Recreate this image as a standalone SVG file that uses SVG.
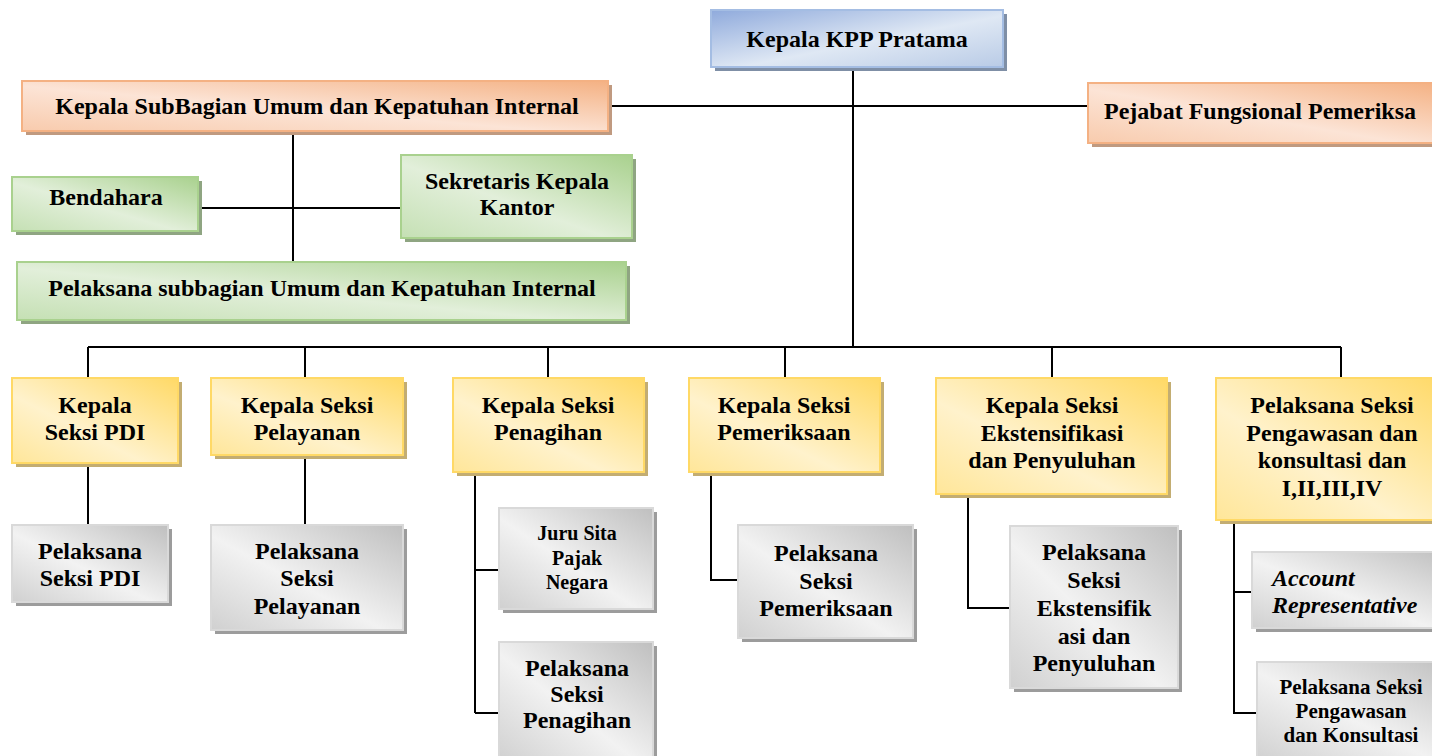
<svg xmlns="http://www.w3.org/2000/svg" width="1432" height="756" viewBox="0 0 1432 756">
<defs>
<linearGradient id="gBlue" x1="0" y1="0" x2="1" y2="1"><stop offset="0" stop-color="#8faadc"/><stop offset="0.55" stop-color="#dfe8f4"/><stop offset="1" stop-color="#b9cbe6"/></linearGradient>
<linearGradient id="gOrange" x1="1" y1="0" x2="0" y2="1"><stop offset="0" stop-color="#f4b183"/><stop offset="0.55" stop-color="#fce4d6"/><stop offset="1" stop-color="#f8cbad"/></linearGradient>
<linearGradient id="gGreen" x1="1" y1="0" x2="0" y2="1"><stop offset="0" stop-color="#a9d18e"/><stop offset="0.55" stop-color="#e2efda"/><stop offset="1" stop-color="#c5e0b4"/></linearGradient>
<linearGradient id="gYellow" x1="1" y1="0" x2="0" y2="1"><stop offset="0" stop-color="#ffd966"/><stop offset="0.6" stop-color="#fff2cc"/><stop offset="1" stop-color="#ffe699"/></linearGradient>
<linearGradient id="gGray" x1="1" y1="0" x2="0" y2="1"><stop offset="0" stop-color="#bfbfbf"/><stop offset="0.55" stop-color="#f2f2f2"/><stop offset="1" stop-color="#d0d0d0"/></linearGradient>
</defs>
<style>
text{font-family:"Liberation Serif","Times New Roman",serif;font-weight:bold;fill:#000;text-anchor:middle;font-size:24px}
.sm{font-size:20px}
.sm2{font-size:21px}
.it{font-style:italic;text-anchor:start}
.blue{fill:url(#gBlue);stroke:#a4bde3;stroke-width:2}
.orange{fill:url(#gOrange);stroke:#f4b183;stroke-width:2}
.green{fill:url(#gGreen);stroke:#a9d18e;stroke-width:2}
.yellow{fill:url(#gYellow);stroke:#ffd966;stroke-width:2}
.gray{fill:url(#gGray);stroke:#d9d9d9;stroke-width:2}
.shB{fill:#7f8fa6}.shO{fill:#c09a80}.shG{fill:#8fa582}.shY{fill:#c3ad72}.shGr{fill:#9c9c9c}
.conn{fill:none;stroke:#000;stroke-width:2}
</style>
<g id="connectors" class="conn">
<path d="M853 67V347"/>
<path d="M608 106H1088"/>
<path d="M293 131V262"/>
<path d="M198 208H401"/>
<path d="M88 347H1341"/>
<path d="M88 347V378M305 347V378M548 347V378M785 347V378M1052 347V378M1341 347V378"/>
<path d="M88 463V525M305 455V525"/>
<path d="M475 472V713M475 570H499M475 713H499"/>
<path d="M711 472V580H738"/>
<path d="M968 494V608H1010"/>
<path d="M1234 520V713H1257M1234 592H1252"/>
</g>
<g id="kepala-kpp"><rect class="shB" x="715" y="14" width="292" height="57"/><rect class="blue" x="711" y="10" width="292" height="57"/><text x="857" y="47">Kepala KPP Pratama</text></g>
<g id="kasubag"><rect class="shO" x="26" y="85" width="586" height="50"/><rect class="orange" x="22" y="81" width="586" height="50"/><text x="317" y="114">Kepala SubBagian Umum dan Kepatuhan Internal</text></g>
<g id="pejabat"><rect class="shO" x="1092" y="87" width="350" height="60"/><rect class="orange" x="1088" y="83" width="350" height="60"/><text x="1260" y="119">Pejabat Fungsional Pemeriksa</text></g>
<g id="bendahara"><rect class="shG" x="16" y="181" width="186" height="54"/><rect class="green" x="12" y="177" width="186" height="54"/><text x="106" y="205">Bendahara</text></g>
<g id="sekretaris"><rect class="shG" x="405" y="159" width="231" height="83"/><rect class="green" x="401" y="155" width="231" height="83"/><text x="517" y="189">Sekretaris Kepala</text><text x="517" y="215">Kantor</text></g>
<g id="pelaksana-subbag"><rect class="shG" x="21" y="266" width="609" height="58"/><rect class="green" x="17" y="262" width="609" height="58"/><text x="322" y="296">Pelaksana subbagian Umum dan Kepatuhan Internal</text></g>
<g id="kasi-pdi"><rect class="shY" x="16" y="382" width="166" height="85"/><rect class="yellow" x="12" y="378" width="166" height="85"/><text x="95" y="413">Kepala</text><text x="95" y="440">Seksi PDI</text></g>
<g id="kasi-pelayanan"><rect class="shY" x="215" y="382" width="192" height="77"/><rect class="yellow" x="211" y="378" width="192" height="77"/><text x="307" y="413">Kepala Seksi</text><text x="307" y="440">Pelayanan</text></g>
<g id="kasi-penagihan"><rect class="shY" x="457" y="382" width="191" height="94"/><rect class="yellow" x="453" y="378" width="191" height="94"/><text x="548" y="413">Kepala Seksi</text><text x="548" y="440">Penagihan</text></g>
<g id="kasi-pemeriksaan"><rect class="shY" x="693" y="382" width="191" height="94"/><rect class="yellow" x="689" y="378" width="191" height="94"/><text x="784" y="413">Kepala Seksi</text><text x="784" y="440">Pemeriksaan</text></g>
<g id="kasi-ekstensifikasi"><rect class="shY" x="940" y="382" width="231" height="116"/><rect class="yellow" x="936" y="378" width="231" height="116"/><text x="1052" y="413">Kepala Seksi</text><text x="1052" y="441">Ekstensifikasi</text><text x="1052" y="468">dan Penyuluhan</text></g>
<g id="pelaksana-pengawasan"><rect class="shY" x="1220" y="382" width="230" height="142"/><rect class="yellow" x="1216" y="378" width="230" height="142"/><text x="1332" y="413">Pelaksana Seksi</text><text x="1332" y="441">Pengawasan dan</text><text x="1332" y="468">konsultasi dan</text><text x="1332" y="496">I,II,III,IV</text></g>
<g id="pel-pdi"><rect class="shGr" x="16" y="529" width="156" height="77"/><rect class="gray" x="12" y="525" width="156" height="77"/><text x="90" y="559">Pelaksana</text><text x="90" y="586">Seksi PDI</text></g>
<g id="pel-pelayanan"><rect class="shGr" x="215" y="529" width="192" height="105"/><rect class="gray" x="211" y="525" width="192" height="105"/><text x="307" y="559">Pelaksana</text><text x="307" y="586">Seksi</text><text x="307" y="614">Pelayanan</text></g>
<g id="juru-sita"><rect class="shGr" x="503" y="512" width="154" height="101"/><rect class="gray" x="499" y="508" width="154" height="101"/><text class="sm" x="577" y="540">Juru Sita</text><text class="sm" x="577" y="565">Pajak</text><text class="sm" x="577" y="589">Negara</text></g>
<g id="pel-penagihan"><rect class="shGr" x="503" y="646" width="154" height="120"/><rect class="gray" x="499" y="642" width="154" height="120"/><text x="577" y="676">Pelaksana</text><text x="577" y="702">Seksi</text><text x="577" y="728">Penagihan</text></g>
<g id="pel-pemeriksaan"><rect class="shGr" x="742" y="529" width="175" height="113"/><rect class="gray" x="738" y="525" width="175" height="113"/><text x="826" y="561">Pelaksana</text><text x="826" y="589">Seksi</text><text x="826" y="616">Pemeriksaan</text></g>
<g id="pel-ekstensifikasi"><rect class="shGr" x="1014" y="530" width="168" height="162"/><rect class="gray" x="1010" y="526" width="168" height="162"/><text x="1094" y="560">Pelaksana</text><text x="1094" y="588">Seksi</text><text x="1094" y="616">Ekstensifik</text><text x="1094" y="644">asi dan</text><text x="1094" y="671">Penyuluhan</text></g>
<g id="account-rep"><rect class="shGr" x="1256" y="556" width="200" height="76"/><rect class="gray" x="1252" y="552" width="200" height="76"/><text class="it" x="1272" y="586">Account</text><text class="it" x="1272" y="613">Representative</text></g>
<g id="pel-pengawasan"><rect class="shGr" x="1261" y="666" width="200" height="100"/><rect class="gray" x="1257" y="662" width="200" height="100"/><text class="sm2" x="1351" y="694">Pelaksana Seksi</text><text class="sm2" x="1351" y="718">Pengawasan</text><text class="sm2" x="1351" y="742">dan Konsultasi</text></g>
</svg>
